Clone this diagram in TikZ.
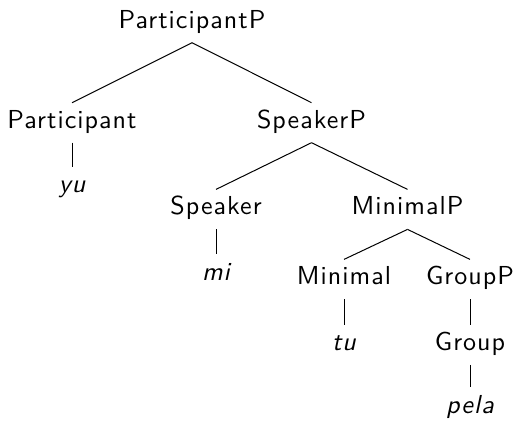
\documentclass[tikz,border=0pt]{standalone}
\usepackage{fontspec}
\newfontfamily\treefont[ItalicFont=lmsans10-oblique.otf,LetterSpace=4]{lmsans10-regular.otf}
\begin{document}
\begin{tikzpicture}[x=0.5pt,y=-0.5pt,
  lbl/.style={anchor=base,inner sep=0pt,text height=12.6pt,text depth=7pt,
    font=\treefont\fontsize{13}{15}\selectfont},
  leaf/.style={lbl},
  edge/.style={line width=0.5pt}]
\useasboundingbox (0,0) rectangle (517,421);
\node[lbl] (PP) at (192,28.3) {ParticipantP};
\node[lbl] (Pa) at (72,128.3) {Participant};
\node[lbl] (SP) at (311.5,128.3) {SpeakerP};
\node[leaf] (yu) at (72,192.7) {\itshape yu};
\node[lbl] (Sp) at (216,215) {Speaker};
\node[lbl] (MP) at (407.5,215) {MinimalP};
\node[leaf] (mi) at (216,280) {\itshape mi};
\node[lbl] (Mi) at (344,285) {Minimal};
\node[lbl] (GP) at (470,285) {GroupP};
\node[leaf] (tu) at (344,350.7) {\itshape tu};
\node[lbl] (Gr) at (470,350.5) {Group};
\node[leaf] (pe) at (470,413) {\itshape pela};
\draw[edge] (PP.south) -- (Pa.north);
\draw[edge] (PP.south) -- (SP.north);
\draw[edge] (Pa.south) -- (yu.north);
\draw[edge] (SP.south) -- (Sp.north);
\draw[edge] (SP.south) -- (MP.north);
\draw[edge] (Sp.south) -- (mi.north);
\draw[edge] (MP.south) -- (Mi.north);
\draw[edge] (MP.south) -- (GP.north);
\draw[edge] (Mi.south) -- (tu.north);
\draw[edge] (GP.south) -- (Gr.north);
\draw[edge] (Gr.south) -- (pe.north);
\end{tikzpicture}
\end{document}
